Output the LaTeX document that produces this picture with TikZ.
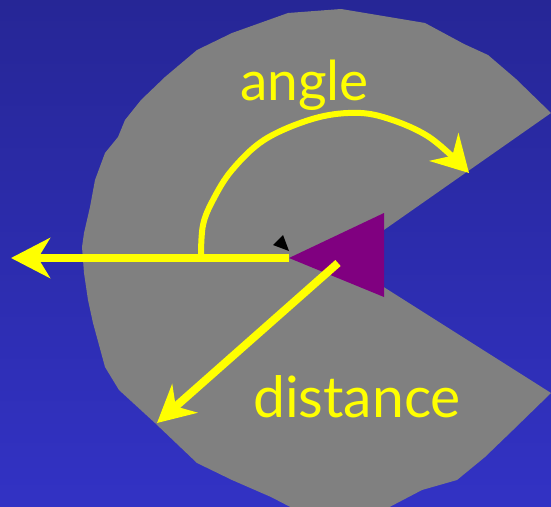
\documentclass[tikz,border=0pt]{standalone}
\usepackage{fontspec}
\setmainfont{Lato}
\usetikzlibrary{arrows.meta}
\definecolor{bgtop}{RGB}{38,38,150}
\definecolor{bgbot}{RGB}{50,50,196}
\definecolor{wedgegrey}{RGB}{128,128,128}
\definecolor{robot}{RGB}{128,0,128}
\definecolor{ylw}{RGB}{255,255,0}
\tikzset{
  yline/.style={draw=ylw, line width=8pt},
  arcline/.style={draw=ylw, line width=6pt, line cap=round, line join=round},
  lbl/.style={text=ylw, inner sep=0pt, anchor=base west, font=\fontsize{55}{55}\selectfont},
}
\begin{document}
\begin{tikzpicture}[x=1pt, y=-1pt]
\useasboundingbox (0,0) rectangle (551,506);
\shade[top color=bgtop, bottom color=bgbot] (0,0) rectangle (551,506);
\begin{scope}
\clip (0,0) rectangle (551,506);
\fill[wedgegrey] (341,260) -- (551,113) -- (516,79) -- (488,55) -- (464,44) -- (425,23)
  -- (341,9) -- (288,13) -- (232,33) -- (197,50) -- (165,77) -- (141,100) -- (125,120)
  -- (118,137) -- (105,153) -- (95,180) -- (90,207) -- (84,233) -- (82,247) -- (84,273)
  -- (88,300) -- (93,323) -- (105,367) -- (119,390) -- (155,423) -- (176,443) -- (197,463)
  -- (232,480) -- (271,497) -- (300,512) -- (380,512) -- (422,490) -- (457,480)
  -- (485,457) -- (513,430) -- (551,393) -- cycle;
\end{scope}
% robot
\coordinate (tip) at (289,258);
\fill[robot] (tip) -- (384,213) -- (384,297) -- cycle;
\fill[black] (273,245) -- (283,235) -- (289,251) -- cycle;
% coordinates
\coordinate (hstart) at (289,258);
\coordinate (leftend) at (11,258);
\coordinate (dstart) at (338,263);
\coordinate (dend) at (157,423);
% straight arrows
\draw[yline, -{Stealth[length=39pt, width=40pt, inset=12pt]}] (hstart) -- (leftend);
\draw[yline, -{Stealth[length=37pt, width=38pt, inset=12pt]}] (dstart) -- (dend);
% angle arc
\draw[arcline, -{Stealth[length=36pt, width=40pt, inset=12pt]}]
  plot[smooth, tension=0.6] coordinates {(201,255) (203,225) (213,200) (232,170) (264,140)
  (309,120) (348,113) (383,117) (429,137) (469,173)};
% labels
\node[lbl] (angle) at (240,100) {angle};
\node[lbl, font=\fontsize{57}{57}\selectfont] (dist) at (253,417) {distance};
\end{tikzpicture}
\end{document}
